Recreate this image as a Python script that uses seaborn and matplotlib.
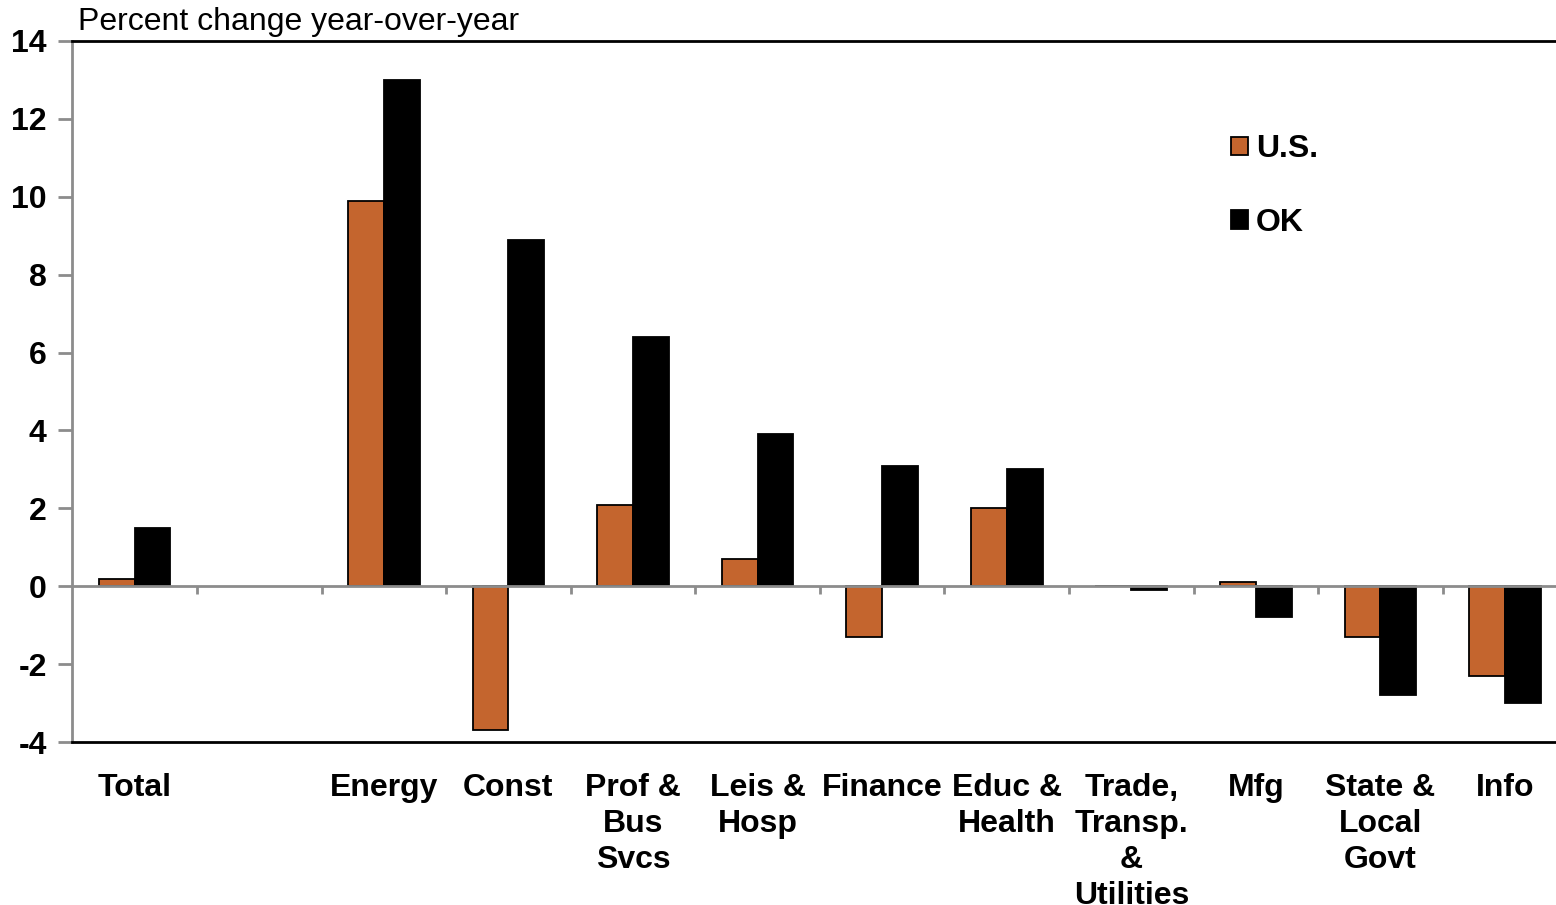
import matplotlib
matplotlib.use("Agg")
import matplotlib.pyplot as plt
import numpy as np
import pandas as pd
import seaborn as sns

# categories (blank slot after Total, as in the original chart)
categories = ["Total", " ", "Energy", "Const", "Prof &\nBus\nSvcs", "Leis &\nHosp",
              "Finance", "Educ &\nHealth", "Trade,\nTransp.\n&\nUtilities", "Mfg",
              "State &\nLocal\nGovt", "Info"]
sectors = ["Total", "Energy", "Const", "Prof &\nBus\nSvcs", "Leis &\nHosp",
           "Finance", "Educ &\nHealth", "Trade,\nTransp.\n&\nUtilities", "Mfg",
           "State &\nLocal\nGovt", "Info"]
us_values = [0.2, 9.9, -3.7, 2.1, 0.7, -1.3, 2.0, 0.0, 0.1, -1.3, -2.3]
ok_values = [1.5, 13.0, 8.9, 6.4, 3.9, 3.1, 3.0, -0.1, -0.8, -2.8, -3.0]
series = ["U.S.", "OK"]
yticks = [-4, -2, 0, 2, 4, 6, 8, 10, 12, 14]

df = pd.DataFrame({
    "sector": sectors * 2,
    "series": ["U.S."] * len(sectors) + ["OK"] * len(sectors),
    "value": us_values + ok_values,
})

sns.set_style("white")
plt.rcParams["font.family"] = ["Liberation Sans", "DejaVu Sans"]
plt.rcParams["text.color"] = "black"
plt.rcParams["xtick.color"] = "black"
plt.rcParams["ytick.color"] = "black"

fig = plt.figure(figsize=(15.56, 9.05), dpi=100)
# plot area runs a little past the right edge of the figure, like the original
ax = fig.add_axes([0.0465, 0.180, 0.9608, 0.7747])

sns.barplot(data=df, x="sector", y="value", hue="series", order=categories,
            hue_order=series, palette={"U.S.": "#C4652E", "OK": "#000000"},
            saturation=1, width=0.575, edgecolor="black", linewidth=1.3,
            ax=ax, legend=True)

ax.set_xlim(-0.5, len(categories) - 0.5)
ax.set_ylim(-4, 14)
ax.set_yticks(yticks)
ax.set_yticklabels([str(t) for t in yticks], fontsize=23, fontweight="bold")
ax.set_xlabel("")
ax.set_ylabel("")

# zero line with slot separators
ax.axhline(0, color="#8c8c8c", linewidth=2, zorder=1)
bounds = np.arange(len(categories) - 1) + 0.5
ax.vlines(bounds, -0.2, 0, color="#8c8c8c", linewidth=2, zorder=1)

ax.tick_params(axis="y", direction="out", length=10, width=2, color="#8c8c8c",
               labelcolor="black", left=True, pad=8.5)
ax.tick_params(axis="x", length=0, pad=22, labelcolor="black")
for lbl in ax.get_xticklabels():
    lbl.set_fontsize(23)
    lbl.set_fontweight("bold")
    lbl.set_linespacing(1.26)
    lbl.set_verticalalignment("top")

for side in ["top", "bottom"]:
    ax.spines[side].set_color("black")
    ax.spines[side].set_linewidth(2)
ax.spines["left"].set_color("#8c8c8c")
ax.spines["left"].set_linewidth(2)
ax.spines["right"].set_visible(False)

ax.text(0.004, 1.005, "Percent change year-over-year", transform=ax.transAxes,
        fontsize=23, ha="left", va="bottom")

leg = ax.legend(loc="upper left", bbox_to_anchor=(0.756, 0.908), frameon=False,
                handlelength=0.53, handleheight=0.53, handletextpad=0.25,
                labelspacing=1.37, prop={"size": 23, "weight": "bold"})

fig.savefig("out.png", dpi=100)
